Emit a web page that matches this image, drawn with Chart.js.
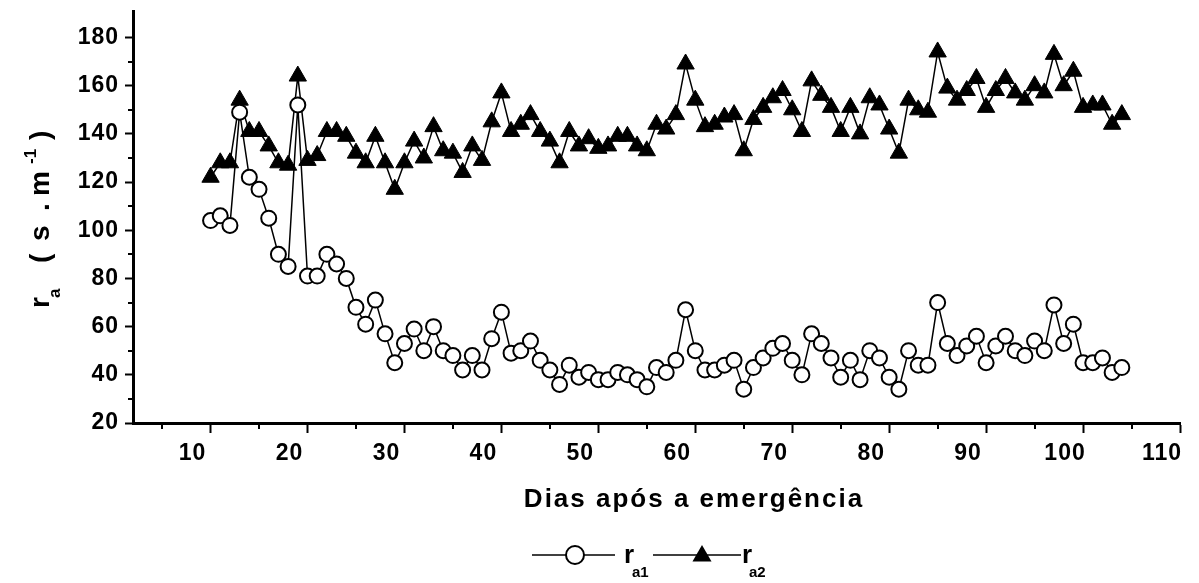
<!DOCTYPE html>
<html lang="pt">
<head>
<meta charset="UTF-8">
<title>Resistência aerodinâmica</title>
<script src="https://cdn.jsdelivr.net/npm/chart.js@4.4.1/dist/chart.umd.min.js"></script>
<style>
    body { margin: 0; background: #fff; }
    #wrap { width: 1199px; height: 583px; }
</style>
</head>
<body>
<div id="wrap"><canvas id="raChart" width="1199" height="583"></canvas></div>
<script>
// days after emergence
const days = [10, 11, 12, 13, 14, 15, 16, 17, 18, 19,
    20, 21, 22, 23, 24, 25, 26, 27, 28, 29,
    30, 31, 32, 33, 34, 35, 36, 37, 38, 39,
    40, 41, 42, 43, 44, 45, 46, 47, 48, 49,
    50, 51, 52, 53, 54, 55, 56, 57, 58, 59,
    60, 61, 62, 63, 64, 65, 66, 67, 68, 69,
    70, 71, 72, 73, 74, 75, 76, 77, 78, 79,
    80, 81, 82, 83, 84, 85, 86, 87, 88, 89,
    90, 91, 92, 93, 94, 95, 96, 97, 98, 99,
    100, 101, 102, 103, 104];

const ra1 = [104, 106, 102, 149, 122, 117, 105, 90, 85, 152,
    81, 81, 90, 86, 80, 68, 61, 71, 57, 45,
    53, 59, 50, 60, 50, 48, 42, 48, 42, 55,
    66, 49, 50, 54, 46, 42, 36, 44, 39, 41,
    38, 38, 41, 40, 38, 35, 43, 41, 46, 67,
    50, 42, 42, 44, 46, 34, 43, 47, 51, 53,
    46, 40, 57, 53, 47, 39, 46, 38, 50, 47,
    39, 34, 50, 44, 44, 70, 53, 48, 52, 56,
    45, 52, 56, 50, 48, 54, 50, 69, 53, 61,
    45, 45, 47, 41, 43];

const ra2 = [122, 128, 128, 154, 141, 141, 135, 128, 127, 164,
    129, 131, 141, 141, 139, 132, 128, 139, 128, 117,
    128, 137, 130, 143, 133, 132, 124, 135, 129, 145,
    157, 141, 144, 148, 141, 137, 128, 141, 135, 138,
    134, 135, 139, 139, 135, 133, 144, 142, 148, 169,
    154, 143, 144, 147, 148, 133, 146, 151, 155, 158,
    150, 141, 162, 156, 151, 141, 151, 140, 155, 152,
    142, 132, 154, 150, 149, 174, 159, 154, 158, 163,
    151, 158, 163, 157, 154, 160, 157, 173, 160, 166,
    151, 152, 152, 144, 148];

const xTickValues = [10, 20, 30, 40, 50, 60, 70, 80, 90, 100, 110];
const xMinorTicks = [5, 15, 25, 35, 45, 55, 65, 75, 85, 95, 105];
const yTickValues = [20, 40, 60, 80, 100, 120, 140, 160, 180];
const yMinorTicks = [30, 50, 70, 90, 110, 130, 150, 170];

const xTitle = 'Dias após a emergência';
const FONT = '"Liberation Sans", Arial, sans-serif';

Chart.defaults.font.family = FONT;
Chart.defaults.color = '#000';

function toPoints(ys) {
    return days.map((d, i) => ({ x: d, y: ys[i] }));
}

function drawTri(ctx, x, y, r) {
    ctx.beginPath();
    ctx.moveTo(x, y - r);
    ctx.lineTo(x + r * 0.866, y + r / 2);
    ctx.lineTo(x - r * 0.866, y + r / 2);
    ctx.closePath();
    ctx.fill();
}

// the scanned labels are wide, spread the tick digits a little
const spacing = {
    id: 'spacing',
    beforeDraw(chart) { chart.ctx.letterSpacing = '1px'; },
    afterDraw(chart) { chart.ctx.letterSpacing = '0px'; }
};

// minor ticks, axis titles and the legend (with subscripts)
const extras = {
    id: 'extras',
    afterDraw(chart) {
        const ctx = chart.ctx;
        const xs = chart.scales.x;
        const ys = chart.scales.y;
        const area = chart.chartArea;
        ctx.save();
        ctx.letterSpacing = '0px';
        ctx.strokeStyle = '#000';
        ctx.fillStyle = '#000';
        ctx.lineWidth = 2;

        xMinorTicks.forEach(v => {
            const px = Math.round(xs.getPixelForValue(v));
            ctx.beginPath();
            ctx.moveTo(px, area.bottom);
            ctx.lineTo(px, area.bottom + 6);
            ctx.stroke();
        });
        yMinorTicks.forEach(v => {
            const py = Math.round(ys.getPixelForValue(v));
            ctx.beginPath();
            ctx.moveTo(area.left, py);
            ctx.lineTo(area.left - 5, py);
            ctx.stroke();
        });

        // x title
        ctx.font = 'bold 26px ' + FONT;
        ctx.letterSpacing = '2px';
        ctx.textAlign = 'center';
        ctx.textBaseline = 'middle';
        ctx.fillText(xTitle, 694, 500);
        ctx.letterSpacing = '0px';

        // y title, rotated
        ctx.save();
        ctx.translate(49, 308);
        ctx.rotate(-Math.PI / 2);
        ctx.textAlign = 'left';
        ctx.textBaseline = 'alphabetic';
        ctx.font = 'bold 28px ' + FONT;
        ctx.fillText('r', 0, 0);
        ctx.fillText('(', 45, 0);
        ctx.fillText('s', 67, 0);
        ctx.fillText('.', 97, 0);
        ctx.fillText('m', 112, 0);
        ctx.fillText(')', 168, 0);
        ctx.font = 'bold 17px ' + FONT;
        ctx.fillText('a', 10, 11);
        ctx.fillText('-1', 144, -13);
        ctx.restore();

        // legend
        const ly = 555;
        ctx.lineWidth = 1.5;
        ctx.beginPath();
        ctx.moveTo(532, ly);
        ctx.lineTo(615, ly);
        ctx.stroke();
        ctx.beginPath();
        ctx.arc(575, ly, 9, 0, Math.PI * 2);
        ctx.fillStyle = '#fff';
        ctx.fill();
        ctx.lineWidth = 2;
        ctx.stroke();
        ctx.fillStyle = '#000';

        ctx.lineWidth = 1.5;
        ctx.beginPath();
        ctx.moveTo(653, ly);
        ctx.lineTo(741, ly);
        ctx.stroke();
        drawTri(ctx, 702, ly + 1, 11);

        ctx.textAlign = 'left';
        ctx.textBaseline = 'alphabetic';
        ctx.font = 'bold 26px ' + FONT;
        ctx.fillText('r', 624, 563);
        ctx.fillText('r', 742, 563);
        ctx.font = 'bold 15px ' + FONT;
        ctx.fillText('a1', 632, 577);
        ctx.fillText('a2', 749, 577);

        ctx.restore();
    }
};

new Chart(document.getElementById('raChart'), {
    type: 'line',
    data: {
        datasets: [
            {
                label: 'ra1',
                data: toPoints(ra1),
                borderColor: '#000',
                borderWidth: 1.5,
                pointStyle: 'circle',
                pointRadius: 7.5,
                pointBorderWidth: 2,
                pointBackgroundColor: '#fff',
                pointBorderColor: '#000',
                tension: 0
            },
            {
                label: 'ra2',
                data: toPoints(ra2),
                borderColor: '#000',
                borderWidth: 1.5,
                pointStyle: 'triangle',
                pointRadius: 10,
                pointBorderWidth: 1,
                pointBackgroundColor: '#000',
                pointBorderColor: '#000',
                tension: 0
            }
        ]
    },
    options: {
        responsive: false,
        animation: false,
        events: [],
        layout: { padding: { top: 9, right: 19, left: 0, bottom: 0 } },
        plugins: {
            legend: { display: false },
            tooltip: { enabled: false }
        },
        scales: {
            x: {
                type: 'linear',
                min: 2,
                max: 110,
                afterBuildTicks: s => { s.ticks = xTickValues.map(v => ({ value: v })); },
                afterFit: s => { s.height = 160; s.paddingLeft = 0; s.paddingRight = 0; },
                border: { display: true, color: '#000', width: 3 },
                grid: { drawOnChartArea: false, drawTicks: true, tickLength: 10, tickWidth: 2, tickColor: '#000', color: '#000' },
                ticks: {
                    font: { size: 23, weight: 'bold' },
                    color: '#000',
                    padding: 7,
                    labelOffset: -18,
                    maxRotation: 0,
                    autoSkip: false
                }
            },
            y: {
                min: 20,
                max: 191,
                afterBuildTicks: s => { s.ticks = yTickValues.map(v => ({ value: v })); },
                afterFit: s => { s.width = 133; s.paddingTop = 0; s.paddingBottom = 0; },
                border: { display: true, color: '#000', width: 3 },
                grid: { drawOnChartArea: false, drawTicks: true, tickLength: 8, tickWidth: 2, tickColor: '#000', color: '#000' },
                ticks: {
                    font: { size: 23, weight: 'bold' },
                    color: '#000',
                    padding: 6
                }
            }
        }
    },
    plugins: [spacing, extras]
});
</script>
</body>
</html>
